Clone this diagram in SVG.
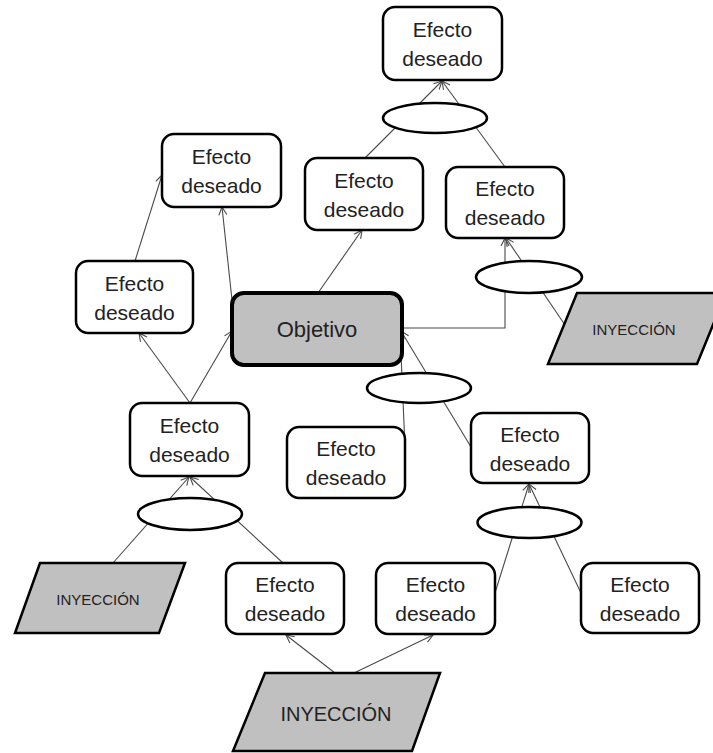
<svg xmlns="http://www.w3.org/2000/svg" width="713" height="753" viewBox="0 0 713 753">
  <style>
    .box { fill: #ffffff; stroke: #000000; stroke-width: 2.5; }
    .goal { fill: #c0c0c0; stroke: #000000; stroke-width: 4; }
    .inj { fill: #c0c0c0; stroke: #000000; stroke-width: 2.5; }
    .and { fill: #ffffff; stroke: #000000; stroke-width: 2.5; }
    .lbl { font-family: "Liberation Sans", Arial, sans-serif; font-size: 21px; fill: #222222; text-anchor: middle; }
    .goal-lbl { font-family: "Liberation Sans", Arial, sans-serif; font-size: 22px; fill: #222222; text-anchor: middle; }
    .inj-lbl { font-family: "Liberation Sans", Arial, sans-serif; font-size: 15px; fill: #222222; text-anchor: middle; }
    .inj-big { font-family: "Liberation Sans", Arial, sans-serif; font-size: 20px; fill: #222222; text-anchor: middle; }
    .edge { fill: none; stroke: #4a4a4a; stroke-width: 1.1; marker-end: url(#arrow); }
  </style>
  <defs>
    <marker id="arrow" markerUnits="userSpaceOnUse" markerWidth="12" markerHeight="12" refX="9" refY="5" orient="auto">
      <path d="M1,1 L9,5 L1,9" fill="none" stroke="#4a4a4a" stroke-width="1.1"/>
    </marker>
  </defs>

  <!-- connectors -->
  <g id="connectors">
    <line class="edge" x1="365" y1="158" x2="442" y2="81"/>
    <line class="edge" x1="505" y1="167" x2="442" y2="81"/>
    <line class="edge" x1="318" y1="293" x2="362" y2="230"/>
    <polyline class="edge" points="402,328 505,328 505,238"/>
    <line class="edge" x1="565" y1="325" x2="506" y2="238"/>
    <line class="edge" x1="232" y1="300" x2="222" y2="207"/>
    <line class="edge" x1="190" y1="403" x2="232" y2="331"/>
    <line class="edge" x1="190" y1="403" x2="139" y2="333"/>
    <line class="edge" x1="135" y1="261" x2="162" y2="175"/>
    <line class="edge" x1="113" y1="563" x2="189" y2="477"/>
    <line class="edge" x1="283" y1="563" x2="190" y2="477"/>
    <line class="edge" x1="405" y1="447" x2="400" y2="331"/>
    <line class="edge" x1="471" y1="447" x2="401" y2="331"/>
    <line class="edge" x1="495" y1="593" x2="529" y2="484"/>
    <line class="edge" x1="582" y1="595" x2="529" y2="484"/>
    <line class="edge" x1="335" y1="673" x2="286" y2="635"/>
    <line class="edge" x1="354" y1="673" x2="433" y2="635"/>
  </g>

  <!-- AND junctions -->
  <g id="and1"><ellipse class="and" cx="435" cy="118" rx="52" ry="15"/></g>
  <g id="and2"><ellipse class="and" cx="529" cy="277" rx="53" ry="16"/></g>
  <g id="and3"><ellipse class="and" cx="419" cy="388" rx="52" ry="15"/></g>
  <g id="and4"><ellipse class="and" cx="190" cy="514" rx="52" ry="16"/></g>
  <g id="and5"><ellipse class="and" cx="529.5" cy="522.5" rx="52" ry="15.5"/></g>

  <!-- effect nodes -->
  <g id="efecto1">
    <rect class="box" x="383" y="7" width="119" height="73" rx="12"/>
    <text class="lbl" x="442.5" y="37">Efecto</text>
    <text class="lbl" x="442.5" y="66">deseado</text>
  </g>
  <g id="efecto2">
    <rect class="box" x="162" y="134" width="119" height="73" rx="12"/>
    <text class="lbl" x="221.5" y="164">Efecto</text>
    <text class="lbl" x="221.5" y="193">deseado</text>
  </g>
  <g id="efecto3">
    <rect class="box" x="305" y="158" width="118" height="72" rx="12"/>
    <text class="lbl" x="364" y="188">Efecto</text>
    <text class="lbl" x="364" y="217">deseado</text>
  </g>
  <g id="efecto4">
    <rect class="box" x="446" y="167" width="118" height="71" rx="12"/>
    <text class="lbl" x="505" y="196">Efecto</text>
    <text class="lbl" x="505" y="225">deseado</text>
  </g>
  <g id="efecto5">
    <rect class="box" x="76" y="261" width="117" height="72" rx="12"/>
    <text class="lbl" x="134.5" y="291">Efecto</text>
    <text class="lbl" x="134.5" y="320">deseado</text>
  </g>
  <g id="efecto6">
    <rect class="box" x="130" y="403" width="119" height="73" rx="12"/>
    <text class="lbl" x="189.5" y="433">Efecto</text>
    <text class="lbl" x="189.5" y="462">deseado</text>
  </g>
  <g id="efecto7">
    <rect class="box" x="287" y="427" width="118" height="71" rx="12"/>
    <text class="lbl" x="346" y="456">Efecto</text>
    <text class="lbl" x="346" y="485">deseado</text>
  </g>
  <g id="efecto8">
    <rect class="box" x="471" y="413" width="118" height="70" rx="12"/>
    <text class="lbl" x="530" y="442">Efecto</text>
    <text class="lbl" x="530" y="471">deseado</text>
  </g>
  <g id="efecto9">
    <rect class="box" x="226" y="563" width="118" height="71" rx="12"/>
    <text class="lbl" x="285" y="592">Efecto</text>
    <text class="lbl" x="285" y="621">deseado</text>
  </g>
  <g id="efecto10">
    <rect class="box" x="376" y="563" width="119" height="71" rx="12"/>
    <text class="lbl" x="435.5" y="592">Efecto</text>
    <text class="lbl" x="435.5" y="621">deseado</text>
  </g>
  <g id="efecto11">
    <rect class="box" x="581" y="563" width="118" height="70" rx="12"/>
    <text class="lbl" x="640" y="592">Efecto</text>
    <text class="lbl" x="640" y="621">deseado</text>
  </g>

  <!-- goal -->
  <g id="objetivo">
    <rect class="goal" x="232" y="293" width="170" height="72" rx="12"/>
    <text class="goal-lbl" x="317" y="337">Objetivo</text>
  </g>

  <!-- injections -->
  <g id="inyeccion-derecha">
    <polygon class="inj" points="577,293 726,293 697,364 548,364"/>
    <text class="inj-lbl" x="634" y="335">INYECCIÓN</text>
  </g>
  <g id="inyeccion-izquierda">
    <polygon class="inj" points="40,563 185,563 159,633 15,633"/>
    <text class="inj-lbl" x="98" y="605">INYECCIÓN</text>
  </g>
  <g id="inyeccion-inferior">
    <polygon class="inj" points="265,673 440,673 412,751 233,751"/>
    <text class="inj-big" x="336" y="721">INYECCIÓN</text>
  </g>
</svg>
